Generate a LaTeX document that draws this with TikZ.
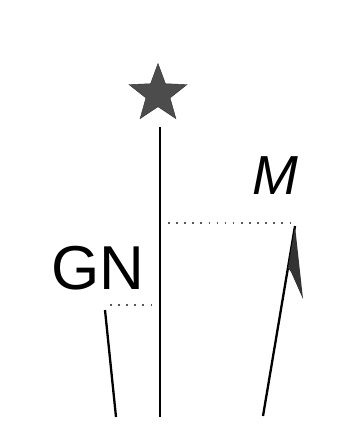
\documentclass[tikz,border=0pt]{standalone}
\usepackage{fontspec}
\setmainfont{Liberation Sans}
\usetikzlibrary{shapes.geometric}
\definecolor{stargray}{gray}{0.3}
\begin{document}
\begin{tikzpicture}[x=1pt,y=-1pt,
  rule/.style={line width=2.3pt},
  guide/.style={line width=1.6pt, dash pattern=on 1.6pt off 6.5pt, gray!70!black},
  lbl/.style={font=\fontsize{62}{62}\selectfont, inner sep=0pt}]
\useasboundingbox (0,0) rectangle (339,436);

% Star and vertical
\node[star, star points=5, star point ratio=2.4, minimum size=61pt, inner sep=0pt,
      fill=stargray, draw=black!80] (star) at (158,94) {};
\coordinate (T) at (160,127);
\coordinate (B) at (160,417);
\draw[rule] (T) -- (B);

% Left line (GN)
\coordinate (L1) at (105,310);
\coordinate (L2) at (116,417);
\draw[rule] (L1) -- (L2);
\coordinate (LD) at (156,305);
\coordinate (LS) at (110,305);
\draw[guide] (LS) -- (LD);
\node[lbl] (gn) at (98,268) {GN};

% Right arrow (M)
\coordinate (R1) at (263,416);
\coordinate (R2) at (295,226);
\draw[rule] (R1) -- (R2);
\fill[black!80] (R2) -- (303,299) -- (291,272) -- (288,268) -- cycle;
\coordinate (RS) at (168,223);
\coordinate (RD) at (292,223);
\draw[guide] (RS) -- (RD);
\node[lbl, font=\fontsize{55}{55}\selectfont\itshape] (m) at (275,176) {M};
\end{tikzpicture}
\end{document}
